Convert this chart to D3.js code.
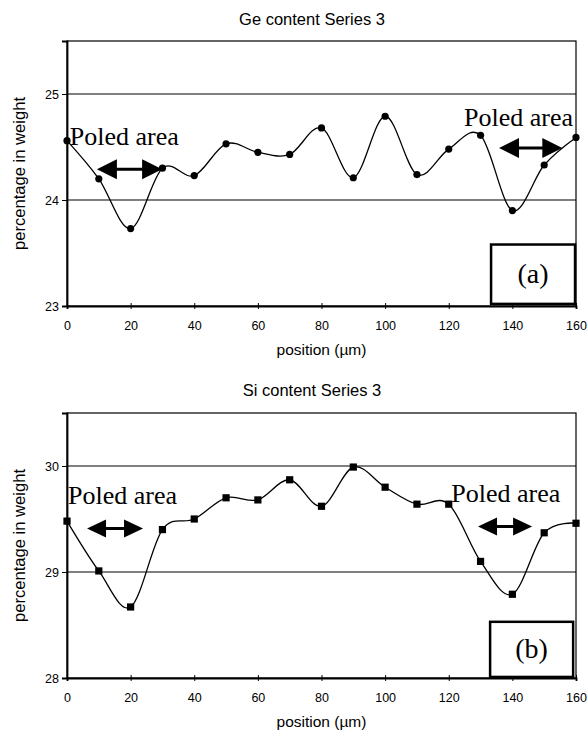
<!DOCTYPE html>
<html>
<head>
<meta charset="utf-8">
<script src="https://cdn.jsdelivr.net/npm/d3@7"></script>
<style>
  html, body { margin: 0; padding: 0; background: #fff; }
  svg { display: block; }
</style>
</head>
<body>
<svg id="chart" width="588" height="731"></svg>
<script>
// ---------------- data ----------------
const positions = [0, 10, 20, 30, 40, 50, 60, 70, 80, 90, 100, 110, 120, 130, 140, 150, 160];
const geValues = [24.56, 24.20, 23.73, 24.30, 24.23, 24.53, 24.45, 24.43, 24.68, 24.21, 24.79, 24.24, 24.48, 24.61, 23.90, 24.33, 24.59];
const siValues = [29.48, 29.01, 28.67, 29.40, 29.50, 29.70, 29.68, 29.87, 29.62, 29.99, 29.80, 29.64, 29.64, 29.10, 28.79, 29.37, 29.46];
const xTicks = [0, 20, 40, 60, 80, 100, 120, 140, 160];
const geTicks = [23, 24, 25];
const siTicks = [28, 29, 30];
const geTitle = "Ge content Series 3";
const siTitle = "Si content Series 3";
const xLabel = "position (µm)";
const yLabel = "percentage in weight";
const noteText = "Poled area";
// annotation anchors in data units
const geNotes = [{x: 0.9, y: 24.52}, {x: 124.8, y: 24.70}];
const geArrows = [{x1: 9.4, x2: 29.9, y: 24.29}, {x1: 135.8, x2: 155.7, y: 24.49}];
const geBox = {x0: 133.3, x1: 159.7, y0: 23.02, y1: 23.58, label: "(a)"};
const siNotes = [{x: 0.3, y: 29.64}, {x: 120.8, y: 29.66}];
const siArrows = [{x1: 6.3, x2: 23.9, y: 29.41}, {x1: 129.2, x2: 146.2, y: 29.43}];
const siBox = {x0: 133.0, x1: 159.1, y0: 28.01, y1: 28.53, label: "(b)"};

// ---------------- drawing ----------------
const svg = d3.select("#chart");
const left = 67, right = 576;
const x = d3.scaleLinear().domain([0, 160]).range([left, right]);

function arrowPath(x1, x2, y, L, H, t) {
  return `M${x1},${y} L${x1 + L},${y - H} L${x1 + L},${y - t} L${x2 - L},${y - t} L${x2 - L},${y - H} L${x2},${y} ` +
         `L${x2 - L},${y + H} L${x2 - L},${y + t} L${x1 + L},${y + t} L${x1 + L},${y + H} Z`;
}

function panel(cfg) {
  const g = svg.append("g");
  const y = d3.scaleLinear().domain(cfg.domain).range([cfg.bottom, cfg.top]);

  // title
  g.append("text").attr("x", cfg.titleX).attr("y", cfg.titleY)
    .attr("text-anchor", "middle").attr("font-family", "Liberation Sans, Arial, sans-serif")
    .attr("font-size", 16.5).text(cfg.title);

  // gridlines
  g.selectAll(".grid").data(cfg.ticks.filter(d => d > cfg.domain[0]))
    .join("line").attr("x1", left).attr("x2", right)
    .attr("y1", d => y(d)).attr("y2", d => y(d))
    .attr("stroke", "#000").attr("stroke-width", 1.2);

  // frame
  g.append("rect").attr("x", left).attr("y", cfg.top).attr("width", right - left)
    .attr("height", cfg.bottom - cfg.top).attr("fill", "none").attr("stroke", "#000").attr("stroke-width", 1.2);

  // y axis
  const ya = d3.axisLeft(y).tickValues(cfg.ticks).tickSize(5).tickPadding(3).tickFormat(d3.format("d"));
  const yg = g.append("g").attr("transform", `translate(${left},0)`).call(ya);
  yg.select(".domain").attr("stroke-width", 1.8);
  yg.selectAll("text").attr("font-family", "Liberation Sans, Arial, sans-serif").attr("font-size", 12.5).attr("fill", "#000");

  // x axis
  const xa = d3.axisBottom(x).tickValues(xTicks).tickSize(3).tickPadding(12).tickFormat(d3.format("d"));
  const xg = g.append("g").attr("transform", `translate(0,${cfg.bottom})`).call(xa);
  xg.select(".domain").attr("stroke-width", 1.8);
  xg.selectAll(".tick line").attr("y1", -3);
  xg.selectAll("text").attr("font-family", "Liberation Sans, Arial, sans-serif").attr("font-size", 12.5).attr("fill", "#000");

  // axis titles
  g.append("text").attr("x", (left + right) / 2).attr("y", cfg.bottom + 49)
    .attr("text-anchor", "middle").attr("font-family", "Liberation Sans, Arial, sans-serif")
    .attr("font-size", 15.5).text(xLabel);
  g.append("text").attr("transform", `translate(25,${(cfg.top + cfg.bottom) / 2}) rotate(-90)`)
    .attr("text-anchor", "middle").attr("font-family", "Liberation Sans, Arial, sans-serif")
    .attr("font-size", 16.6).text(yLabel);

  // series
  const pts = positions.map((p, i) => [p, cfg.values[i]]);
  const line = d3.line().x(d => x(d[0])).y(d => y(d[1])).curve(d3.curveCatmullRom.alpha(0));
  g.append("path").attr("d", line(pts)).attr("fill", "none").attr("stroke", "#000").attr("stroke-width", 1.3);
  if (cfg.marker === "circle") {
    g.selectAll(".m").data(pts).join("circle").attr("cx", d => x(d[0])).attr("cy", d => y(d[1]))
      .attr("r", 3.6).attr("fill", "#000");
  } else {
    g.selectAll(".m").data(pts).join("rect").attr("x", d => x(d[0]) - 3.6).attr("y", d => y(d[1]) - 3.6)
      .attr("width", 7.2).attr("height", 7.2).attr("fill", "#000");
  }

  // annotations
  g.selectAll(".note").data(cfg.notes).join("text")
    .attr("x", d => x(d.x)).attr("y", d => y(d.y))
    .attr("font-family", "Liberation Serif, Times New Roman, serif").attr("font-size", 26)
    .text(noteText);
  g.selectAll(".arrow").data(cfg.arrows).join("path")
    .attr("d", d => arrowPath(x(d.x1), x(d.x2), y(d.y), cfg.headL, cfg.headH, 1.5))
    .attr("fill", "#000");

  // label box
  const b = cfg.box;
  g.append("rect").attr("x", x(b.x0)).attr("y", y(b.y1)).attr("width", x(b.x1) - x(b.x0))
    .attr("height", y(b.y0) - y(b.y1)).attr("fill", "#fff").attr("stroke", "#000").attr("stroke-width", 2.5);
  g.append("text").attr("x", (x(b.x0) + x(b.x1)) / 2).attr("y", (y(b.y0) + y(b.y1)) / 2)
    .attr("dy", "0.3em").attr("text-anchor", "middle")
    .attr("font-family", "Liberation Serif, Times New Roman, serif").attr("font-size", 28)
    .text(b.label);
}

panel({title: geTitle, titleX: 312, titleY: 25, top: 41, bottom: 306, domain: [23, 25.5], ticks: geTicks,
       values: geValues, marker: "circle", notes: geNotes, arrows: geArrows, box: geBox, headL: 20, headH: 10});
panel({title: siTitle, titleX: 312, titleY: 396, top: 413, bottom: 678, domain: [28, 30.5], ticks: siTicks,
       values: siValues, marker: "square", notes: siNotes, arrows: siArrows, box: siBox, headL: 19, headH: 9});
</script>
</body>
</html>
